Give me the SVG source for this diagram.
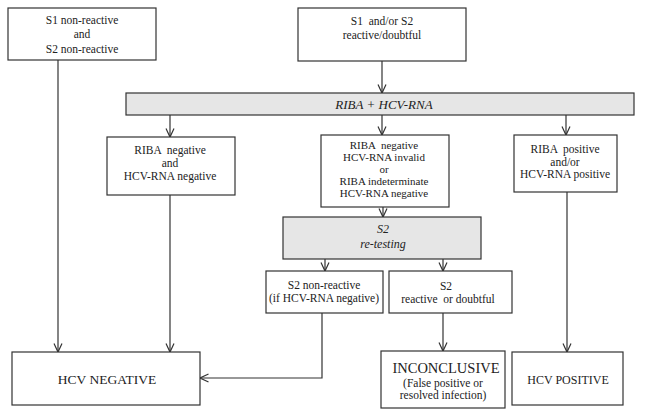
<svg xmlns="http://www.w3.org/2000/svg" width="645" height="417" viewBox="0 0 645 417">
<defs>
<marker id="arr" viewBox="-1 -5 11 10" refX="8.5" refY="0" markerWidth="11" markerHeight="10" markerUnits="userSpaceOnUse" orient="auto">
<path d="M0,-4 L8.5,0 L0,4" fill="none" stroke="#333" stroke-width="1.2"/>
</marker>
<style>
.box{fill:#fff;stroke:#333;stroke-width:1.2}
.bar{fill:#e6e6e6;stroke:#333;stroke-width:1.2}
.t{font-family:"Liberation Serif","Times New Roman",serif;font-size:11.5px;fill:#222;text-anchor:middle}
.s{font-size:11px}
.i{font-style:italic}
.big{font-size:13.5px}
.c{fill:none;stroke:#333;stroke-width:1.2;marker-end:url(#arr)}
</style>
</defs>
<rect width="645" height="417" fill="#fff"/>
<g id="connectors">
<line class="c" x1="58" y1="60" x2="58" y2="352"/>
<line class="c" x1="382" y1="61" x2="382" y2="93"/>
<line class="c" x1="170" y1="115" x2="170" y2="137"/>
<line class="c" x1="382" y1="115" x2="382" y2="135"/>
<line class="c" x1="566" y1="115" x2="566" y2="135"/>
<line class="c" x1="170" y1="195" x2="170" y2="352"/>
<line class="c" x1="383" y1="207" x2="383" y2="217"/>
<line class="c" x1="325" y1="259" x2="325" y2="271"/>
<line class="c" x1="443" y1="259" x2="443" y2="271"/>
<line class="c" x1="567" y1="192" x2="567" y2="352"/>
<line class="c" x1="443" y1="313" x2="443" y2="351"/>
<polyline class="c" points="322,313 322,378 200,378"/>
</g>
<g id="n1"><rect class="box" x="8" y="8" width="148" height="52"/>
<text class="t" x="82" y="24">S1 non-reactive</text><text class="t" x="82" y="38">and</text><text class="t" x="82" y="53">S2 non-reactive</text></g>
<g id="n2"><rect class="box" x="298" y="8" width="168" height="53"/>
<text class="t" x="382" y="25" xml:space="preserve">S1  and/or S2</text><text class="t" x="382" y="39">reactive/doubtful</text></g>
<g id="bar1"><rect class="bar" x="126" y="93" width="508" height="22"/>
<text class="t i" x="384" y="109" style="font-size:13px">RIBA + HCV-RNA</text></g>
<g id="n3"><rect class="box" x="107" y="137" width="128" height="58"/>
<text class="t" x="170" y="154" xml:space="preserve">RIBA  negative</text><text class="t" x="170" y="167">and</text><text class="t" x="170" y="180">HCV-RNA negative</text></g>
<g id="n4"><rect class="box" x="321" y="135" width="128" height="72"/>
<text class="t s" x="384" y="149" xml:space="preserve">RIBA  negative</text><text class="t s" x="384" y="161">HCV-RNA invalid</text><text class="t s" x="384" y="173">or</text><text class="t s" x="384" y="185">RIBA indeterminate</text><text class="t s" x="384" y="197">HCV-RNA negative</text></g>
<g id="n5"><rect class="box" x="514" y="135" width="103" height="57"/>
<text class="t" x="565" y="153" xml:space="preserve">RIBA  positive</text><text class="t" x="565" y="165.5">and/or</text><text class="t" x="565" y="178">HCV-RNA positive</text></g>
<g id="bar2"><rect class="bar" x="283" y="217" width="198" height="42"/>
<text class="t i" x="383" y="233" style="font-size:12px">S2</text><text class="t i" x="383" y="248" style="font-size:12px">re-testing</text></g>
<g id="n6"><rect class="box" x="266" y="271" width="117" height="42"/>
<text class="t" x="324" y="289">S2 non-reactive</text><text class="t" x="324" y="302">(if HCV-RNA negative)</text></g>
<g id="n7"><rect class="box" x="389" y="271" width="123" height="42"/>
<text class="t" x="446" y="290">S2</text><text class="t" x="448" y="303" xml:space="preserve">reactive  or doubtful</text></g>
<g id="n8"><rect class="box" x="12" y="352" width="188" height="53"/>
<text class="t big" x="107" y="384">HCV NEGATIVE</text></g>
<g id="n9"><rect class="box" x="381" y="351" width="124" height="57"/>
<text class="t" x="446" y="373" style="font-size:14.5px">INCONCLUSIVE</text><text class="t" x="443" y="386.5">(False positive or</text><text class="t" x="443" y="399">resolved infection)</text></g>
<g id="n10"><rect class="box" x="512" y="352" width="111" height="53"/>
<text class="t" x="568" y="384" style="font-size:12px">HCV POSITIVE</text></g>
</svg>
